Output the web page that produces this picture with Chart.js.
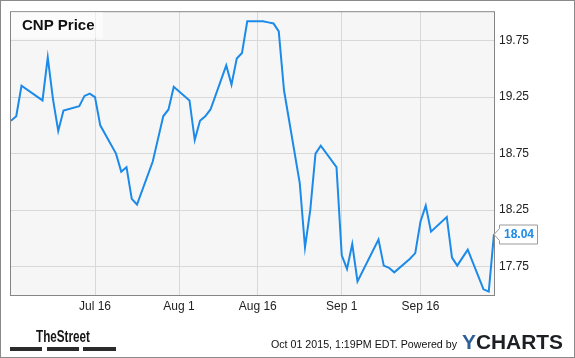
<!DOCTYPE html>
<html lang="en">
<head>
<meta charset="UTF-8">
<title>CNP Price</title>
<style>
  html, body { margin:0; padding:0; background:#fff; }
  canvas { display:block; }
</style>
</head>
<body>
<canvas id="chart" width="575" height="358"></canvas>

<script src="https://cdn.jsdelivr.net/npm/chart.js"></script>
<script>
// trading days and closing prices
const dates = [
  '2015-06-30','2015-07-01','2015-07-02','2015-07-06','2015-07-07','2015-07-08','2015-07-09','2015-07-10',
  '2015-07-13','2015-07-14','2015-07-15','2015-07-16','2015-07-17',
  '2015-07-20','2015-07-21','2015-07-22','2015-07-23','2015-07-24',
  '2015-07-27','2015-07-28','2015-07-29','2015-07-30','2015-07-31',
  '2015-08-03','2015-08-04','2015-08-05','2015-08-06','2015-08-07',
  '2015-08-10','2015-08-11','2015-08-12','2015-08-13','2015-08-14',
  '2015-08-17','2015-08-18','2015-08-19','2015-08-20','2015-08-21',
  '2015-08-24','2015-08-25','2015-08-26','2015-08-27','2015-08-28',
  '2015-08-31','2015-09-01','2015-09-02','2015-09-03','2015-09-04',
  '2015-09-08','2015-09-09','2015-09-10','2015-09-11',
  '2015-09-14','2015-09-15','2015-09-16','2015-09-17','2015-09-18',
  '2015-09-21','2015-09-22','2015-09-23','2015-09-24','2015-09-25',
  '2015-09-28','2015-09-29','2015-09-30'
];
const prices = [
  19.04, 19.08, 19.35, 19.22, 19.60, 19.23, 18.95, 19.13,
  19.17, 19.26, 19.28, 19.25, 19.00,
  18.75, 18.59, 18.63, 18.35, 18.30,
  18.68, 18.88, 19.08, 19.14, 19.34,
  19.22, 18.87, 19.04, 19.08, 19.14,
  19.53, 19.36, 19.59, 19.64, 19.92,
  19.92, 19.91, 19.90, 19.83, 19.31,
  18.49, 17.92, 18.25, 18.75, 18.82,
  18.63, 17.85, 17.73, 17.95, 17.62,
  17.99, 17.76, 17.74, 17.70,
  17.82, 17.87, 18.15, 18.29, 18.06,
  18.19, 17.83, 17.76, 17.83, 17.90,
  17.55, 17.53, 18.04
];
const xTickDates = ['2015-07-16','2015-08-01','2015-08-16','2015-09-01','2015-09-16'];
const xTickLabels = ['Jul 16','Aug 1','Aug 16','Sep 1','Sep 16'];
const yTicks = [17.75, 18.25, 18.75, 19.25, 19.75];

const startDay = Date.UTC(2015, 5, 30);
function dayOffset(s) {
  const [y, m, d] = s.split('-').map(Number);
  return (Date.UTC(y, m - 1, d) - startDay) / 864e5;
}
const endDay = dayOffset(dates[dates.length - 1]);
const points = dates.map((d, i) => ({ x: dayOffset(d), y: prices[i] }));
const xTicks = xTickDates.map(dayOffset);

const lineColor = '#1b8ae8';
const FONT = 'Arial, "Liberation Sans", sans-serif';

// draw text squeezed/stretched to a given width
function fitText(c, txt, x, y, width) {
  const w = c.measureText(txt).width;
  c.save();
  c.translate(x, y);
  c.scale(width / w, 1);
  c.fillText(txt, 0, 0);
  c.restore();
}

// background, plot frame, title box, last value flag, footer
const decor = {
  id: 'decor',
  beforeDraw(chart) {
    const c = chart.ctx, a = chart.chartArea;
    c.save();
    c.fillStyle = '#fff';
    c.fillRect(0, 0, chart.width, chart.height);
    c.fillStyle = '#f6f6f6';
    c.fillRect(a.left, a.top, a.right - a.left, a.bottom - a.top);
    c.restore();
  },
  afterDatasetsDraw(chart) {
    const c = chart.ctx, a = chart.chartArea;
    c.save();
    // frame
    c.strokeStyle = '#858585';
    c.lineWidth = 1;
    c.strokeRect(a.left - 0.5, a.top - 0.5, a.right - a.left + 1, a.bottom - a.top + 1);

    // title box
    c.fillStyle = 'rgba(255,255,255,0.55)';
    c.fillRect(a.left, a.top, 92, 26);
    c.fillStyle = '#111';
    c.font = 'bold 15px ' + FONT;
    c.textBaseline = 'alphabetic';
    c.fillText('CNP Price', 22, 29.5);

    // last value flag
    const last = prices[prices.length - 1];
    const px = chart.scales.x.getPixelForValue(endDay);
    const py = Math.round(chart.scales.y.getPixelForValue(last)) + 0.5;
    const bx = px + 5.5, bw = 38, bh = 19;
    c.beginPath();
    c.moveTo(bx, py - bh / 2);
    c.lineTo(bx + bw, py - bh / 2);
    c.lineTo(bx + bw, py + bh / 2);
    c.lineTo(bx, py + bh / 2);
    c.lineTo(bx, py + 6);
    c.lineTo(px, py);
    c.lineTo(bx, py - 6);
    c.closePath();
    c.fillStyle = '#fff';
    c.fill();
    c.strokeStyle = '#9a9a9a';
    c.stroke();
    c.fillStyle = lineColor;
    c.font = 'bold 12px ' + FONT;
    c.textAlign = 'center';
    c.textBaseline = 'middle';
    c.fillText(last.toFixed(2), bx + bw / 2 + 0.5, py + 0.5);

    // footer: TheStreet
    c.textAlign = 'left';
    c.textBaseline = 'alphabetic';
    c.font = 'bold 17px "Liberation Sans Narrow", ' + FONT;
    c.fillStyle = '#151515';
    fitText(c, 'TheStreet', 36, 341.5, 54);
    c.fillStyle = '#2b2b2b';
    c.fillRect(10, 347, 32, 4);
    c.fillRect(47, 347, 32, 4);
    c.fillRect(83, 347, 33, 4);

    // footer: timestamp + YCHARTS
    c.fillStyle = '#111';
    c.font = '11px ' + FONT;
    c.textBaseline = 'middle';
    fitText(c, 'Oct 01 2015, 1:19PM EDT. Powered by', 271, 345, 186);
    c.textBaseline = 'alphabetic';
    c.font = 'bold 20px ' + FONT;
    const yw = c.measureText('Y').width;
    const cw = c.measureText('CHARTS').width;
    c.save();
    c.translate(462, 349);
    c.scale(101 / (yw + cw), 1);
    c.fillStyle = '#2f5f98';
    c.fillText('Y', 0, 0);
    c.fillStyle = '#1c1f24';
    c.fillText('CHARTS', yw, 0);
    c.restore();

    // outer border
    c.strokeStyle = '#8a8a8a';
    c.strokeRect(0.5, 0.5, chart.width - 1, chart.height - 1);
    c.restore();
  }
};

new Chart(document.getElementById('chart'), {
  type: 'line',
  data: {
    datasets: [{
      label: 'CNP Price',
      data: points,
      borderColor: lineColor,
      borderWidth: 2,
      pointRadius: 0,
      tension: 0,
      fill: false
    }]
  },
  options: {
    responsive: false,
    animation: false,
    devicePixelRatio: 1,
    layout: { padding: { left: 11, top: 10, right: 0, bottom: 0 } },
    plugins: { legend: { display: false }, tooltip: { enabled: false } },
    scales: {
      x: {
        type: 'linear',
        min: 0,
        max: endDay,
        afterBuildTicks: s => { s.ticks = xTicks.map(v => ({ value: v })); },
        afterFit: s => { s.height = 63; },
        grid: { color: '#d8d8d8', drawTicks: false },
        border: { display: false },
        ticks: {
          autoSkip: false,
          maxRotation: 0,
          padding: 4,
          color: '#222',
          font: { family: FONT, size: 12 },
          callback: v => xTickLabels[xTicks.indexOf(v)]
        }
      },
      y: {
        position: 'right',
        min: 17.5,
        max: 20.0,
        afterBuildTicks: s => { s.ticks = yTicks.map(v => ({ value: v })); },
        afterFit: s => { s.width = 81; },
        grid: { color: '#d8d8d8', drawTicks: false },
        border: { display: false },
        ticks: {
          padding: 5,
          color: '#222',
          font: { family: FONT, size: 12 },
          callback: v => v.toFixed(2)
        }
      }
    }
  },
  plugins: [decor]
});
</script>
</body>
</html>
